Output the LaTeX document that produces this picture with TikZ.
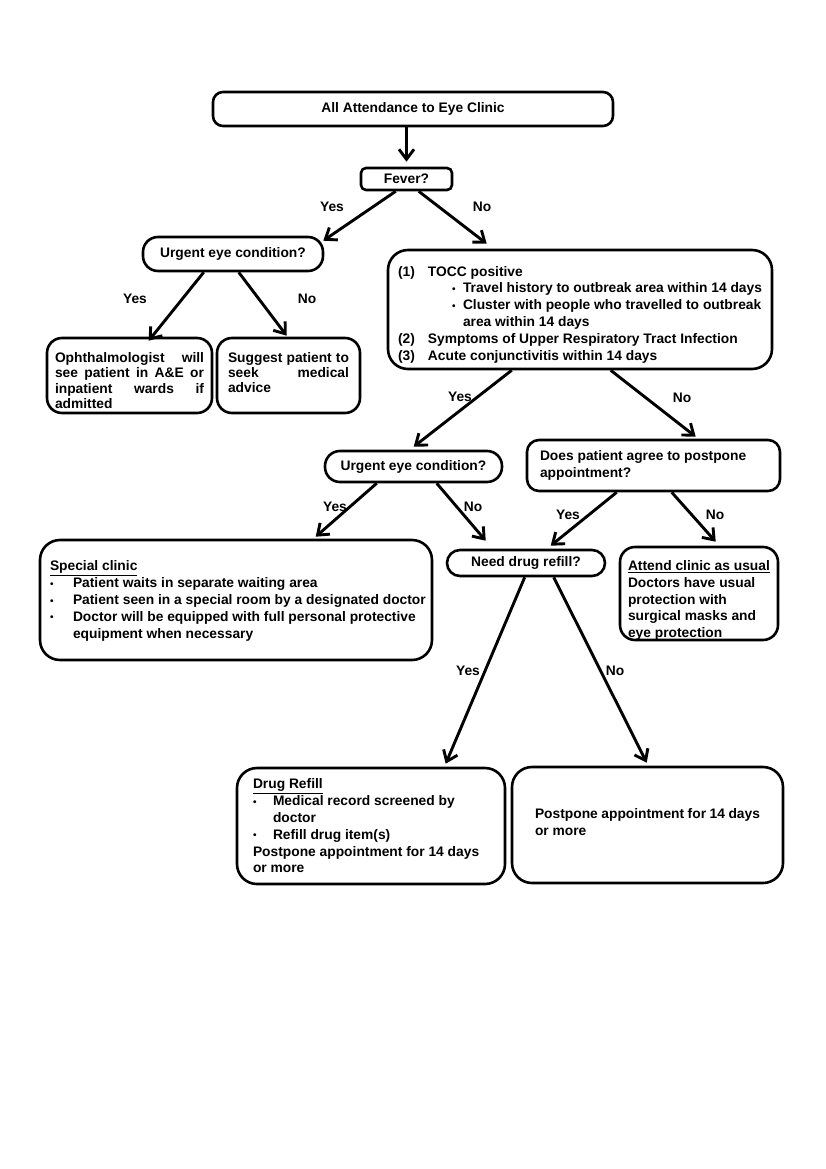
\documentclass[tikz,border=0pt]{standalone}
\usepackage{fontspec}
\setmainfont{Liberation Sans}
\usetikzlibrary{arrows.meta,calc}
\newcommand\fs{\fontsize{13.8}{16.8}\selectfont\bfseries}
\newcommand\fst{\fontsize{13.8}{15.3}\selectfont\bfseries}
\newcommand\bul{{\fontsize{10}{10}\selectfont\raisebox{0.5pt}{•}}}
% text block: width, downward shift, content
\newcommand\tb[3]{\raisebox{-#2}[\height][\depth]{\parbox{#1}{\raggedright\hyphenpenalty=10000 #3}}}
\newcommand\jl[1]{\makebox[\hsize][s]{#1}}
\tikzset{
  box/.style={draw, line width=2.6pt, rounded corners=#1, inner sep=0pt, font=\fs},
  box/.default=12pt,
  arr/.style={line width=2.9pt, -{Straight Barb[length=10pt,width=15pt,line width=2.9pt]}},
  lab/.style={font=\fs, inner sep=0pt}
}
\begin{document}
\begin{tikzpicture}[x=1pt,y=-1pt]
\useasboundingbox[fill=white] (0,0) rectangle (826,1169);

\node[box=10pt, minimum width=400pt, minimum height=34pt] (top) at (413,109) {All Attendance to Eye Clinic};
\node[box=5pt, minimum width=91pt, minimum height=22pt] (fever) at (406.5,179) {Fever?};
\node[box=15pt, minimum width=180pt, minimum height=34pt] (urg1) at (233,254) {Urgent eye condition?};
\node[box=15pt, minimum width=165pt, minimum height=75pt, font=\fst] (oph) at (129.5,375.5)
 {\tb{149pt}{5pt}{\jl{Ophthalmologist will}\\\jl{see patient in A\&E or}\\\jl{inpatient wards if}\\admitted}};
\node[box=15pt, minimum width=143pt, minimum height=75pt, font=\fst] (sug) at (288.5,375.5)
 {\tb{121pt}{-3pt}{\jl{Suggest patient to}\\\jl{seek medical}\\advice}};
\node[box=20pt, minimum width=384pt, minimum height=119pt] (tocc) at (580,309.5)
 {\tb{364pt}{5pt}{\makebox[30pt][l]{(1)}TOCC positive\\
  \hspace*{54pt}\makebox[11pt][l]{\bul}Travel history to outbreak area within 14 days\\
  \hspace*{54pt}\makebox[11pt][l]{\bul}Cluster with people who travelled to outbreak\\
  \hspace*{65pt}area within 14 days\\
  \makebox[30pt][l]{(2)}Symptoms of Upper Respiratory Tract Infection\\
  \makebox[30pt][l]{(3)}Acute conjunctivitis within 14 days}};
\node[box=15pt, minimum width=177pt, minimum height=31pt] (urg2) at (413.5,466.5) {Urgent eye condition?};
\node[box=12pt, minimum width=253pt, minimum height=51pt] (post) at (653.5,465.5)
 {\tb{227pt}{0pt}{Does patient agree to postpone\\appointment?}};
\node[box=20pt, minimum width=392pt, minimum height=120pt] (spec) at (236,600)
 {\tb{372pt}{1pt}{\underline{Special clinic}\\
  \mbox{\makebox[23pt][l]{\bul}Patient waits in separate waiting area}\\
  \mbox{\makebox[23pt][l]{\bul}Patient seen in a special room by a designated doctor}\\
  \mbox{\makebox[23pt][l]{\bul}Doctor will be equipped with full personal protective}\\
  \hspace*{23pt}equipment when necessary}};
\node[box=13pt, minimum width=158pt, minimum height=26pt] (need) at (526,563) {Need drug refill?};
\node[box=15pt, minimum width=158pt, minimum height=93pt] (att) at (699,593.5)
 {\tb{142pt}{7pt}{\underline{Attend clinic as usual}\\Doctors have usual\\protection with\\surgical masks and\\eye protection}};
\node[box=20pt, minimum width=268pt, minimum height=116pt] (drug) at (371,826)
 {\tb{236pt}{0pt}{\underline{Drug Refill}\\
  \makebox[20pt][l]{\bul}Medical record screened by\\
  \hspace*{20pt}doctor\\
  \makebox[20pt][l]{\bul}Refill drug item(s)\\
  Postpone appointment for 14 days\\
  or more}};
\node[box=20pt, minimum width=271pt, minimum height=116pt] (pp) at (647.5,825)
 {\tb{225pt}{-3pt}{Postpone appointment for 14 days\\or more}};

% connectors
\draw[arr] (top.south -| fever.north) -- ($(fever.north)+(0,-5)$);
\draw[arr] ($(fever.south west)+(36,0)$) -- ($(urg1.north east)+(-1,5)$);
\draw[arr] ($(fever.south west)+(59,0)$) -- ($(tocc.north west)+(100,-5)$);
\draw[arr] ($(urg1.south west)+(62,0)$) -- ($(oph.north west)+(103,4)$);
\draw[arr] ($(urg1.south west)+(97,0)$) -- ($(sug.north west)+(71,-1)$);
\draw[arr] ($(tocc.south west)+(125,0)$) -- ($(urg2.north west)+(90,-3)$);
\draw[arr] ($(tocc.south west)+(224,0)$) -- ($(post.north west)+(170,-2)$);
\draw[arr] ($(urg2.south west)+(53,0)$) -- ($(spec.north west)+(277,-2)$);
\draw[arr] ($(urg2.south west)+(113,0)$) -- ($(need.north west)+(40,-8)$);
\draw[arr] ($(post.south west)+(91,0)$) -- ($(need.north west)+(105,-3)$);
\draw[arr] ($(post.south west)+(146,0)$) -- ($(att.north west)+(97,-4)$);
\draw[arr] ($(need.south west)+(79,0)$) -- ($(drug.north west)+(210,-3)$);
\draw[arr] ($(need.south west)+(108,0)$) -- ($(pp.north west)+(136,-3)$);

% labels
\node[lab] (l1) at (332,207) {Yes};
\node[lab] (l2) at (482,207) {No};
\node[lab] (l3) at (135,299) {Yes};
\node[lab] (l4) at (307,299) {No};
\node[lab] (l5) at (460,397) {Yes};
\node[lab] (l6) at (682,398) {No};
\node[lab] (l7) at (335,507) {Yes};
\node[lab] (l8) at (473,507) {No};
\node[lab] (l9) at (568,515) {Yes};
\node[lab] (l10) at (715,515) {No};
\node[lab] (l11) at (468,671) {Yes};
\node[lab] (l12) at (615,671) {No};
\end{tikzpicture}
\end{document}
